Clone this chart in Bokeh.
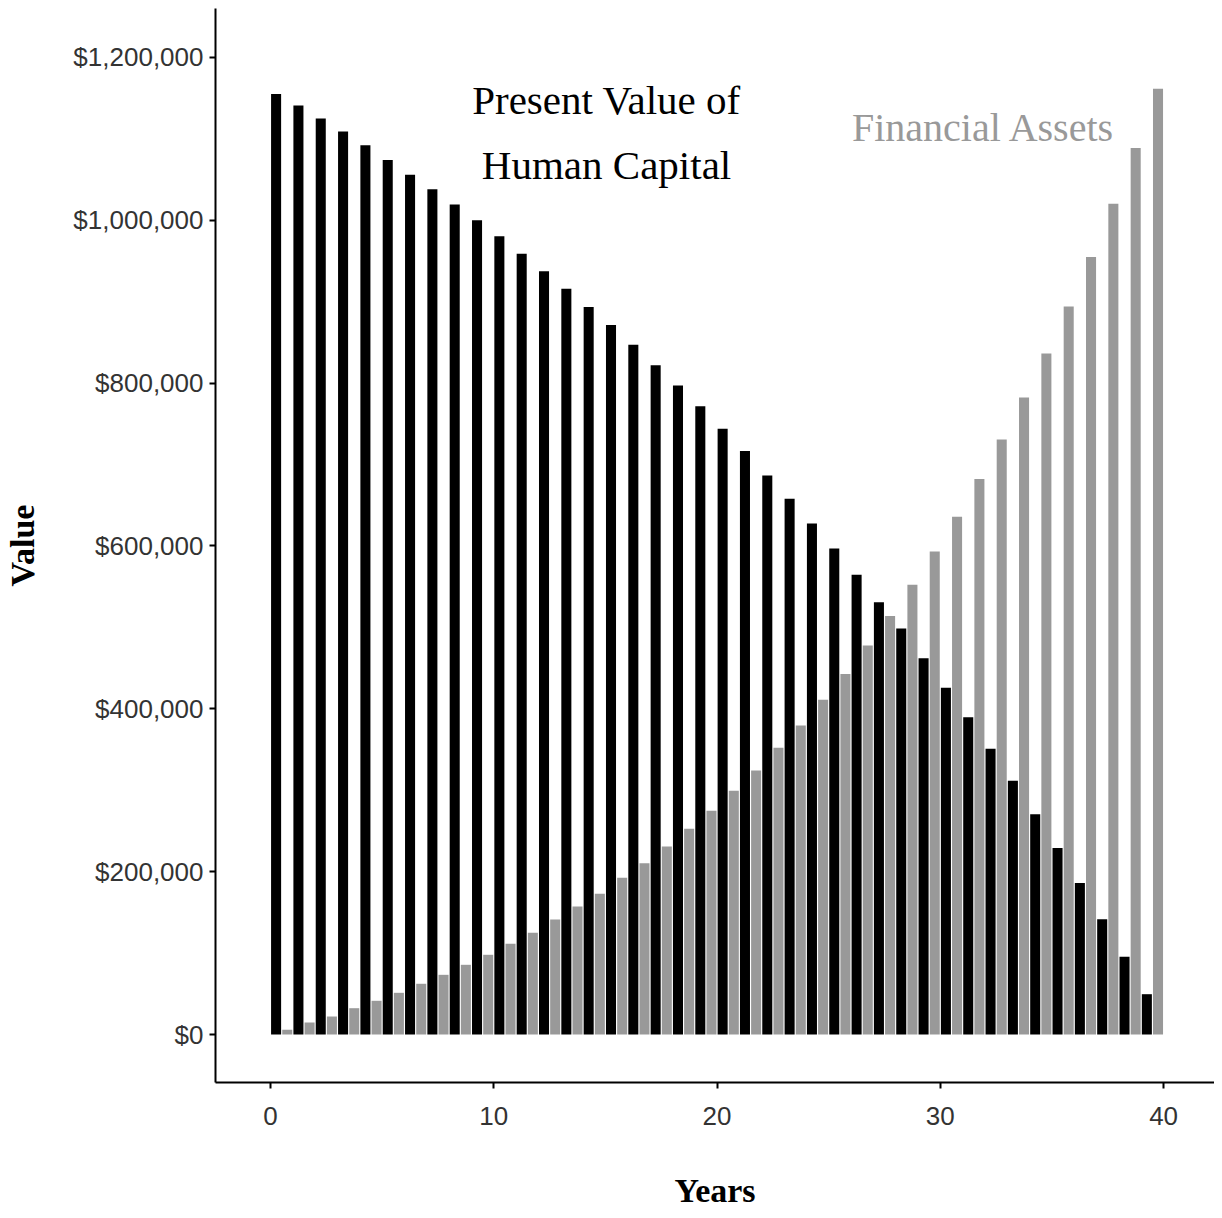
from bokeh.plotting import figure
from bokeh.models import ColumnDataSource, NumeralTickFormatter, FixedTicker, Range1d, Label
from bokeh.transform import dodge
from bokeh.embed import file_html
from bokeh.resources import INLINE

# ---- data ----
years = list(range(40))
human_capital = [
    1155000, 1141000, 1125000, 1109000, 1092000, 1074000, 1056000, 1038000, 1019500, 1000000,
    980500, 959000, 937500, 916000, 893500, 871500, 847000, 822000, 797000, 771500,
    744000, 716500, 686500, 658000, 627500, 597000, 564500, 531000, 498500, 462000,
    426000, 389500, 351000, 311500, 270500, 229000, 186000, 141500, 95500, 49500,
]
financial_assets = [
    5800, 14700, 22100, 32300, 41400, 51200, 62300, 73300, 85600, 97900,
    111400, 124900, 141300, 157200, 172800, 192500, 210400, 230900, 252700, 274800,
    299300, 324300, 352200, 379500, 411100, 442800, 477800, 513900, 552400, 593300,
    635900, 682300, 730900, 782400, 836500, 894200, 954800, 1020400, 1088700, 1161600,
]
x_ticks = [0, 10, 20, 30, 40]
y_ticks = [0, 200000, 400000, 600000, 800000, 1000000, 1200000]
label_human = ["Present Value of", "Human Capital"]
label_fin = "Financial Assets"

src = ColumnDataSource(dict(year=years, human=human_capital, fin=financial_assets))

p = figure(width=1214, height=1218, output_backend="svg", toolbar_location=None,
           x_range=Range1d(-2.464, 42.28), y_range=Range1d(-58950, 1260100),
           min_border_left=215, min_border_right=0, min_border_top=8,
           min_border_bottom=136, outline_line_color=None,
           background_fill_color="white", border_fill_color="white")

p.vbar(x=dodge("year", 0.25, range=p.x_range), top="human", bottom=0, width=0.45,
       source=src, fill_color="black", line_color=None)
p.vbar(x=dodge("year", 0.75, range=p.x_range), top="fin", bottom=0, width=0.45,
       source=src, fill_color="#999999", line_color=None)

p.xgrid.visible = False
p.ygrid.visible = False

tick_font = "Liberation Sans"
serif = "Liberation Serif"

for ax in (p.xaxis[0], p.yaxis[0]):
    ax.axis_line_color = "black"
    ax.axis_line_width = 2
    ax.major_tick_line_color = "black"
    ax.major_tick_line_width = 2
    ax.major_tick_out = 6
    ax.major_tick_in = 0
    ax.minor_tick_line_color = None
    ax.major_label_text_font = tick_font
    ax.major_label_text_font_size = "26px"
    ax.major_label_text_color = "#333333"
    ax.axis_label_text_font = serif
    ax.axis_label_text_font_style = "bold"
    ax.axis_label_text_font_size = "34px"
    ax.axis_label_text_color = "black"

p.xaxis[0].ticker = FixedTicker(ticks=x_ticks)
p.yaxis[0].ticker = FixedTicker(ticks=y_ticks)
p.yaxis[0].formatter = NumeralTickFormatter(format="$0,0")
p.xaxis[0].axis_label = "Years"
p.yaxis[0].axis_label = "Value"
p.xaxis[0].major_label_standoff = 18
p.xaxis[0].axis_label_standoff = 44
p.yaxis[0].major_label_standoff = 6
p.yaxis[0].axis_label_standoff = 29

p.add_layout(Label(x=15.05, y=1147200, text=label_human[0], text_align="center",
                   text_baseline="middle", text_font=serif, text_font_size="41px",
                   text_color="black"))
p.add_layout(Label(x=15.05, y=1067400, text=label_human[1], text_align="center",
                   text_baseline="middle", text_font=serif, text_font_size="41px",
                   text_color="black"))
p.add_layout(Label(x=31.94, y=1114100, text=label_fin, text_align="center",
                   text_baseline="middle", text_font=serif, text_font_size="40px",
                   text_color="#999999"))

open("out.html", "w").write(file_html(p, INLINE))
